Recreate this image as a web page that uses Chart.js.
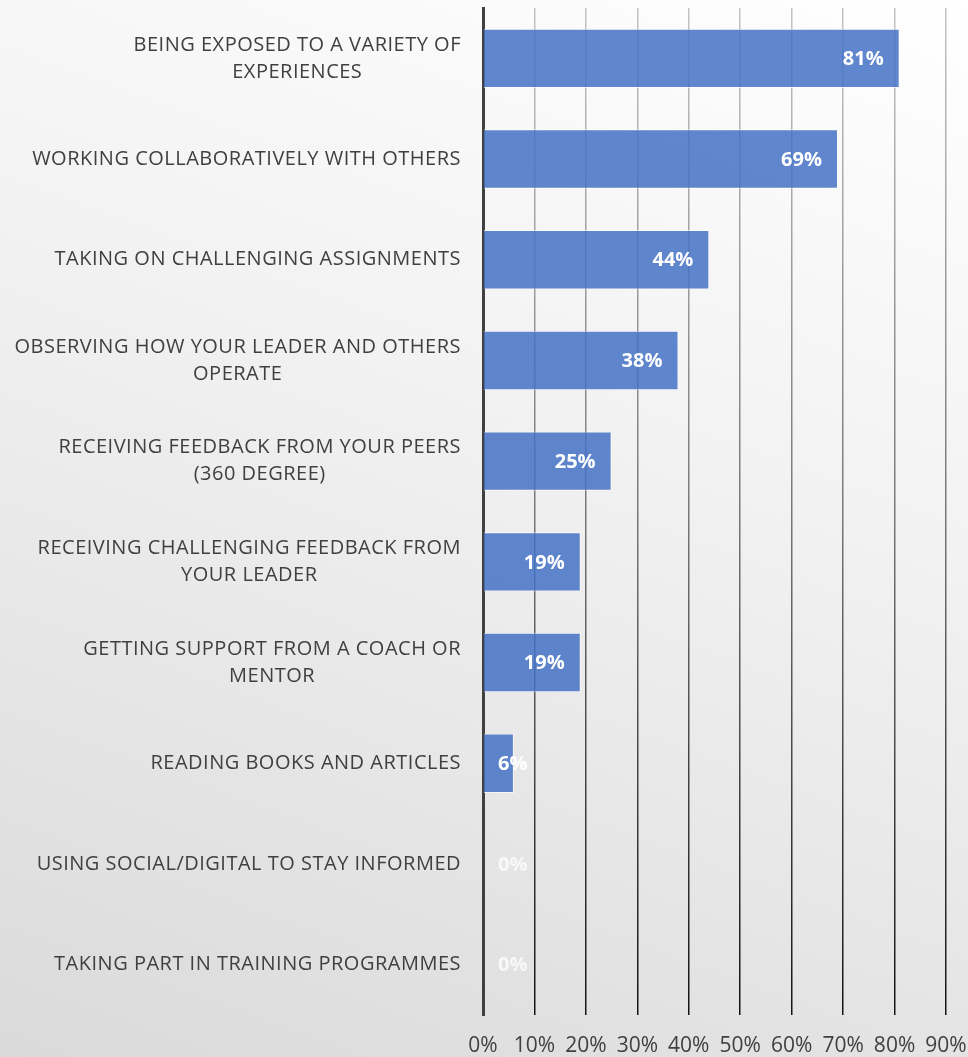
<!DOCTYPE html>
<html lang="en">
<head>
    <meta charset="UTF-8">
    <title>Development Activities</title>
    <script src="https://cdn.jsdelivr.net/npm/chart.js"></script>
    <style>
        html, body {
            margin: 0;
            padding: 0;
        }
        body {
            width: 968px;
            height: 1057px;
            background: linear-gradient(200deg, #ffffff 0%, #f2f2f2 40%, #dadada 100%);
            overflow: hidden;
        }
        .chart-box {
            position: relative;
            width: 968px;
            height: 1057px;
        }
    </style>
</head>
<body>
    <div class="chart-box">
        <canvas id="barChart"></canvas>
    </div>

    <script>
        // Categories (top to bottom) and values in percent
        const categories = [
            ['BEING EXPOSED TO A VARIETY OF', 'EXPERIENCES'],
            'WORKING COLLABORATIVELY WITH OTHERS',
            'TAKING ON CHALLENGING ASSIGNMENTS',
            ['OBSERVING HOW YOUR LEADER AND OTHERS', 'OPERATE'],
            ['RECEIVING FEEDBACK FROM YOUR PEERS', '(360 DEGREE)'],
            ['RECEIVING CHALLENGING FEEDBACK FROM', 'YOUR LEADER'],
            ['GETTING SUPPORT FROM A COACH OR', 'MENTOR'],
            'READING BOOKS AND ARTICLES',
            'USING SOCIAL/DIGITAL TO STAY INFORMED',
            'TAKING PART IN TRAINING PROGRAMMES'
        ];
        const values = [81, 69, 44, 38, 25, 19, 19, 6, 0, 0];
        const xTicks = [0, 10, 20, 30, 40, 50, 60, 70, 80, 90];

        const textColor = '#404040';
        const fontFamily = '"Open Sans", sans-serif';

        // gridlines fade from light at the top to dark at the bottom
        function gridColor(context) {
            const chart = context.chart;
            const area = chart.chartArea;
            if (!area) return '#999';
            const g = chart.ctx.createLinearGradient(0, area.top, 0, area.bottom);
            g.addColorStop(0, 'rgba(195,195,195,1)');
            g.addColorStop(0.5, 'rgba(120,120,120,1)');
            g.addColorStop(1, 'rgba(20,20,20,1)');
            return g;
        }

        // category labels: lines centred on each other, block right-aligned to the axis
        const categoryLabels = {
            id: 'categoryLabels',
            afterDraw(chart) {
                const ctx = chart.ctx;
                const yScale = chart.scales.y;
                const rightEdge = chart.chartArea.left - 22;
                const lineH = 27;
                ctx.save();
                ctx.font = '20px ' + fontFamily;
                ctx.letterSpacing = '0.5px';
                ctx.fillStyle = textColor;
                ctx.textAlign = 'center';
                ctx.textBaseline = 'middle';
                categories.forEach(function(label, i) {
                    const lines = Array.isArray(label) ? label : [label];
                    let maxW = 0;
                    lines.forEach(function(l) { maxW = Math.max(maxW, ctx.measureText(l).width); });
                    const cx = rightEdge - maxW / 2;
                    const cy = yScale.getPixelForValue(i);
                    const top = cy - (lines.length - 1) * lineH / 2;
                    lines.forEach(function(l, j) {
                        ctx.fillText(l, cx, top + j * lineH);
                    });
                });
                ctx.restore();
            }
        };

        // value labels drawn at the inside end of each bar
        const valueLabels = {
            id: 'valueLabels',
            afterDatasetsDraw(chart) {
                const ctx = chart.ctx;
                const meta = chart.getDatasetMeta(0);
                const axisX = chart.scales.x.getPixelForValue(0);
                ctx.save();
                ctx.font = 'bold 20px ' + fontFamily;
                ctx.textBaseline = 'middle';
                ctx.textAlign = 'left';
                meta.data.forEach(function(bar, i) {
                    const text = values[i] + '%';
                    const w = ctx.measureText(text).width;
                    const left = Math.max(bar.x - 16 - w, axisX + 15);
                    ctx.fillStyle = values[i] === 0 ? 'rgba(255,255,255,0.75)' : '#ffffff';
                    ctx.fillText(text, left, bar.y + 1);
                });
                ctx.restore();
            }
        };

        const ctx = document.getElementById('barChart').getContext('2d');
        new Chart(ctx, {
            type: 'bar',
            data: {
                labels: categories,
                datasets: [{
                    data: values,
                    backgroundColor: 'rgba(68,114,196,0.85)',
                    borderColor: 'rgba(255,255,255,0.6)',
                    borderWidth: 1,
                    borderSkipped: 'left',
                    barPercentage: 0.59,
                    categoryPercentage: 1.0
                }]
            },
            options: {
                indexAxis: 'y',
                responsive: true,
                maintainAspectRatio: false,
                animation: false,
                layout: {
                    padding: { top: 8, right: 22, bottom: 0, left: 0 }
                },
                scales: {
                    x: {
                        min: 0,
                        max: 90,
                        afterBuildTicks: function(scale) {
                            scale.ticks = xTicks.map(function(v) { return { value: v }; });
                        },
                        afterFit: function(scale) {
                            scale.height = 42;
                            scale.paddingLeft = 0;
                            scale.paddingRight = 0;
                        },
                        ticks: {
                            callback: function(value) { return value + '%'; },
                            color: textColor,
                            font: { family: fontFamily, size: 21 },
                            padding: 18,
                            maxRotation: 0
                        },
                        grid: {
                            color: gridColor,
                            lineWidth: 1.5,
                            drawTicks: false
                        },
                        border: { display: false }
                    },
                    y: {
                        afterFit: function(scale) {
                            scale.width = 483;
                            scale.paddingTop = 0;
                            scale.paddingBottom = 0;
                        },
                        ticks: {
                            // drawn by the categoryLabels plugin instead
                            callback: function() { return ''; }
                        },
                        grid: { display: false, drawTicks: false },
                        border: { color: textColor, width: 3 }
                    }
                },
                plugins: {
                    legend: { display: false },
                    tooltip: { enabled: false }
                }
            },
            plugins: [valueLabels, categoryLabels]
        });
    </script>
</body>
</html>
